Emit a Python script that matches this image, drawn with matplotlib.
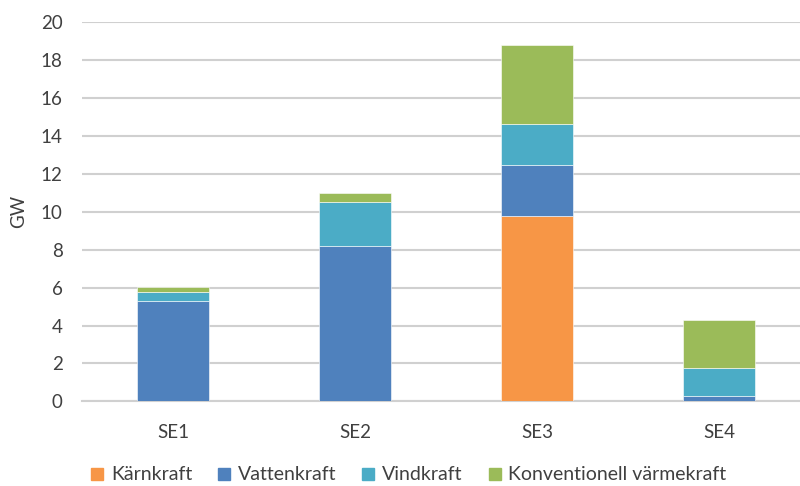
import matplotlib
matplotlib.use("Agg")
import matplotlib.pyplot as plt
from matplotlib.lines import Line2D
import numpy as np

plt.rcParams['font.family'] = ['Lato', 'DejaVu Sans']

regions = ["SE1", "SE2", "SE3", "SE4"]
series = ["Kärnkraft", "Vattenkraft", "Vindkraft", "Konventionell värmekraft"]
karnkraft = [0.0, 0.0, 9.78, 0.0]
vattenkraft = [5.27, 8.2, 2.67, 0.31]
vindkraft = [0.48, 2.32, 2.17, 1.44]
konventionell = [0.29, 0.48, 4.18, 2.52]
colors = ["#F79646", "#4F81BD", "#4BACC6", "#9BBB59"]
yticks = [0, 2, 4, 6, 8, 10, 12, 14, 16, 18, 20]

fig = plt.figure(figsize=(8, 4.86), dpi=100)
ax = fig.add_axes([0.1025, 0.174, 0.8975, 0.781])

x = np.arange(len(regions))
bottom = np.zeros(len(regions))
for name, vals, c in zip(series, [karnkraft, vattenkraft, vindkraft, konventionell], colors):
    ax.bar(x, vals, width=0.4, bottom=bottom, color=c, edgecolor="white",
           linewidth=0.4, zorder=3, label=name)
    bottom += np.array(vals)

ax.set_ylim(0, 20)
ax.set_xlim(-0.5, 3.445)
ax.set_yticks(yticks)
ax.set_xticks(x)
ax.set_xticklabels(regions)
ax.tick_params(axis="both", length=0, labelsize=13.5, colors="#404040")
ax.tick_params(axis="x", pad=16)
ax.tick_params(axis="y", pad=14)
ax.yaxis.grid(True, color="#D0D0D0", linewidth=1.5, zorder=0)
for s in ["top", "right", "left"]:
    ax.spines[s].set_visible(False)
ax.spines["bottom"].set_color("#D0D0D0")
ax.spines["bottom"].set_linewidth(1.5)
ax.set_ylabel("GW", fontsize=13.5, color="#404040", labelpad=10)

handles = [Line2D([0], [0], marker="s", linestyle="none", markersize=8,
                  markerfacecolor=c, markeredgecolor=c) for c in colors]
fig.legend(handles, series, loc="center", bbox_to_anchor=(0.511, 0.023),
           ncol=4, frameon=False, fontsize=14, handlelength=0.6,
           handletextpad=0.4, columnspacing=1.35, labelcolor="#404040")

fig.savefig("out.png", dpi=100)
